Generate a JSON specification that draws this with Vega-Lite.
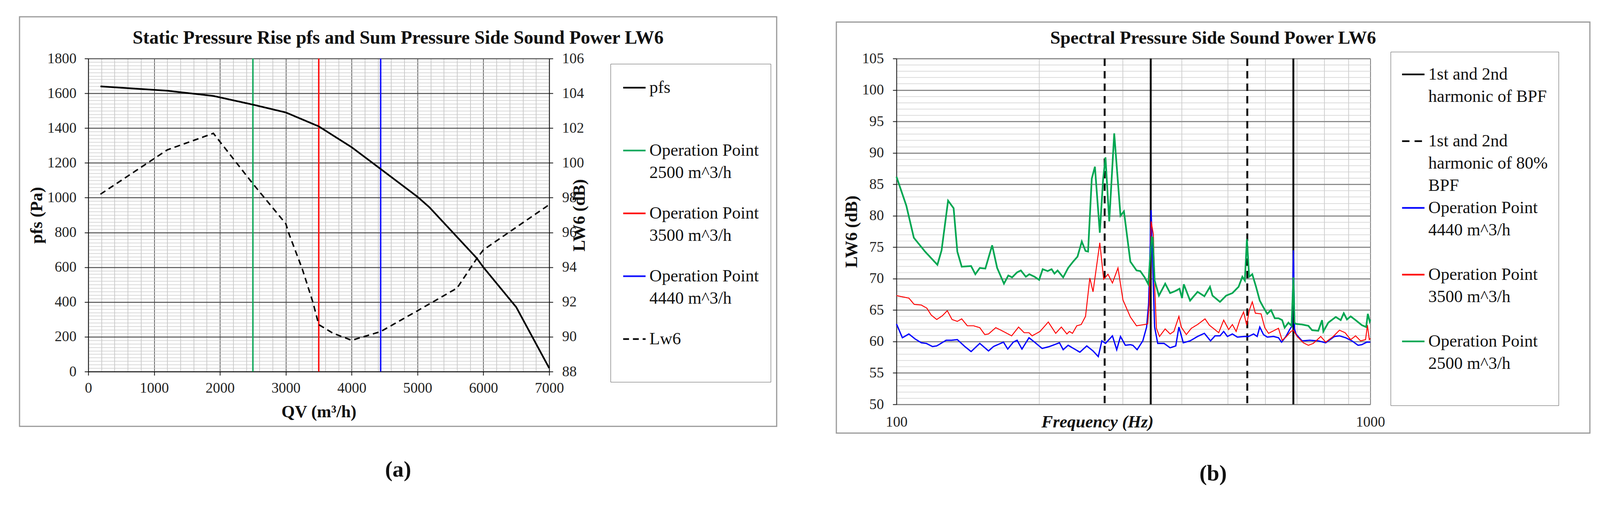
{
  "$schema": "https://vega.github.io/schema/vega-lite/v6.json",
  "background": "white",
  "padding": {"left": 48, "top": 41, "right": 38, "bottom": 45},
  "spacing": 149,
  "config": {
    "font": "Liberation Serif",
    "view": {"stroke": null},
    "axis": {
      "labelFont": "Liberation Serif",
      "labelFontSize": 37.3,
      "labelColor": "#222",
      "titleFont": "Liberation Serif",
      "titleFontSize": 44,
      "titleFontWeight": "bold",
      "titleColor": "#111",
      "labelOverlap": false,
      "labelSeparation": -5000,
      "labelFlush": false,
      "tickCount": 200,
      "domainColor": "#111",
      "domainWidth": 2,
      "tickColor": "#111",
      "tickWidth": 2,
      "tickSize": 9.6
    },
    "legend": {
      "title": null,
      "labelFont": "Liberation Serif",
      "labelFontSize": 44,
      "labelColor": "#111",
      "labelLimit": 900,
      "labelOffset": 7.6,
      "symbolType": "stroke",
      "symbolSize": 3295,
      "symbolStrokeWidth": 4.3,
      "strokeColor": "#555",
      "fillColor": "white"
    },
    "title": {"font": "Liberation Serif", "fontWeight": "bold", "color": "#111"},
    "style": {"guide-label": {"lineHeight": 57.4}}
  },
  "resolve": {
    "scale": {"color": "independent", "strokeDash": "independent"},
    "legend": {"color": "independent", "strokeDash": "independent"}
  },
  "hconcat": [
    {
      "title": {"text": "(a)", "orient": "bottom", "fontSize": 57.4, "offset": 82, "anchor": "middle", "frame": "bounds"},
      "vconcat": [
        {
          "title": {"text": "Static Pressure Rise pfs and Sum Pressure Side Sound Power LW6", "fontSize": 48, "offset": -80, "anchor": "middle", "frame": "bounds"},
          "width": 1180,
          "height": 802,
          "layer": [
            {
              "layer": [
                {
                  "data": {"values": [{"k": 1}]},
                  "mark": {"type": "rect", "fill": "transparent", "stroke": "#9a9a9a", "strokeWidth": 3},
                  "encoding": {
                    "x": {"datum": -1044, "type": "quantitative"},
                    "x2": {"datum": 10454},
                    "y": {"datum": 2040, "type": "quantitative"},
                    "y2": {"datum": -315}
                  }
                },
                {
                  "data": {"values": [
                    {"Q": 2500, "series": "Operation Point|2500 m^3/h"},
                    {"Q": 3500, "series": "Operation Point|3500 m^3/h"},
                    {"Q": 4440, "series": "Operation Point|4440 m^3/h"}
                  ]},
                  "mark": {"type": "rule", "strokeWidth": 3.8},
                  "encoding": {
                    "x": {"field": "Q", "type": "quantitative"},
                    "color": {"field": "series", "type": "nominal"},
                    "strokeDash": {"field": "series", "type": "nominal"}
                  }
                },
                {
                  "data": {"values": [
                    {"Q": 185, "P": 1640, "series": "pfs|"},
                    {"Q": 1200, "P": 1615, "series": "pfs|"},
                    {"Q": 1900, "P": 1585, "series": "pfs|"},
                    {"Q": 2500, "P": 1535, "series": "pfs|"},
                    {"Q": 3000, "P": 1490, "series": "pfs|"},
                    {"Q": 3500, "P": 1410, "series": "pfs|"},
                    {"Q": 4000, "P": 1290, "series": "pfs|"},
                    {"Q": 4440, "P": 1165, "series": "pfs|"},
                    {"Q": 5000, "P": 1005, "series": "pfs|"},
                    {"Q": 5180, "P": 945, "series": "pfs|"},
                    {"Q": 5900, "P": 652, "series": "pfs|"},
                    {"Q": 6000, "P": 600, "series": "pfs|"},
                    {"Q": 6500, "P": 370, "series": "pfs|"},
                    {"Q": 7000, "P": 20, "series": "pfs|"}
                  ]},
                  "mark": {"type": "line", "strokeWidth": 4.3},
                  "encoding": {
                    "x": {
                      "field": "Q", "type": "quantitative",
                      "scale": {"domain": [0, 7000], "nice": false, "zero": false},
                      "axis": {
                        "title": "QV (m³/h)",
                        "values": [0,200,400,600,800,1000,1200,1400,1600,1800,2000,2200,2400,2600,2800,3000,3200,3400,3600,3800,4000,4200,4400,4600,4800,5000,5200,5400,5600,5800,6000,6200,6400,6600,6800,7000],
                        "tickCount": 200,
                        "format": "d",
                        "labelExpr": "datum.value % 1000 === 0 ? datum.label : ''",
                        "labelOverlap": false,
                        "labelFlush": false,
                        "labelPadding": 15,
                        "titlePadding": 21,
                        "tickOpacity": {"condition": {"test": "datum.value % 1000 === 0", "value": 1}, "value": 0},
                        "grid": true,
                        "gridColor": {"condition": {"test": "datum.value % 1000 === 0", "value": "#333333"}, "value": "#bdbdbd"},
                        "gridWidth": 1.6
                      }
                    },
                    "y": {
                      "field": "P", "type": "quantitative",
                      "scale": {"domain": [0, 1800], "nice": false},
                      "axis": {
                        "title": "pfs (Pa)",
                        "values": [0,20,40,60,80,100,120,140,160,180,200,220,240,260,280,300,320,340,360,380,400,420,440,460,480,500,520,540,560,580,600,620,640,660,680,700,720,740,760,780,800,820,840,860,880,900,920,940,960,980,1000,1020,1040,1060,1080,1100,1120,1140,1160,1180,1200,1220,1240,1260,1280,1300,1320,1340,1360,1380,1400,1420,1440,1460,1480,1500,1520,1540,1560,1580,1600,1620,1640,1660,1680,1700,1720,1740,1760,1780,1800],
                        "tickCount": 200,
                        "format": "d",
                        "labelExpr": "datum.value % 200 === 0 ? datum.label : ''",
                        "labelOverlap": false,
                        "labelPadding": 21,
                        "titlePadding": 4,
                        "tickOpacity": {"condition": {"test": "datum.value % 200 === 0", "value": 1}, "value": 0},
                        "grid": true,
                        "gridColor": {"condition": {"test": "datum.value % 200 === 0", "value": "#505050"}, "value": "#cccccc"},
                        "gridWidth": {"condition": {"test": "datum.value % 200 === 0", "value": 2.5}, "value": 1.4}
                      }
                    },
                    "color": {
                      "field": "series", "type": "nominal",
                      "scale": {
                        "domain": ["pfs|", "Operation Point|2500 m^3/h", "Operation Point|3500 m^3/h", "Operation Point|4440 m^3/h", "Lw6|"],
                        "range": ["#000000", "#12a85c", "#ff1010", "#1010ff", "#000000"]
                      },
                      "legend": {"orient": "none", "legendX": 1337, "legendY": 13.6, "padding": 30, "rowPadding": 50, "labelExpr": "split(datum.label, '|')"}
                    },
                    "strokeDash": {
                      "field": "series", "type": "nominal",
                      "scale": {
                        "domain": ["pfs|", "Operation Point|2500 m^3/h", "Operation Point|3500 m^3/h", "Operation Point|4440 m^3/h", "Lw6|"],
                        "range": [[1, 0], [1, 0], [1, 0], [1, 0], [15, 10]]
                      },
                      "legend": {"orient": "none", "legendX": 1337, "legendY": 13.6, "padding": 30, "rowPadding": 50, "labelExpr": "split(datum.label, '|')"}
                    }
                  }
                }
              ]
            },
            {
              "data": {"values": [
                {"Q": 185, "L": 98.2, "series": "Lw6|"},
                {"Q": 1200, "L": 100.75, "series": "Lw6|"},
                {"Q": 1900, "L": 101.7, "series": "Lw6|"},
                {"Q": 2500, "L": 98.8, "series": "Lw6|"},
                {"Q": 3000, "L": 96.5, "series": "Lw6|"},
                {"Q": 3050, "L": 95.9, "series": "Lw6|"},
                {"Q": 3250, "L": 93.9, "series": "Lw6|"},
                {"Q": 3410, "L": 92.0, "series": "Lw6|"},
                {"Q": 3500, "L": 90.7, "series": "Lw6|"},
                {"Q": 3720, "L": 90.2, "series": "Lw6|"},
                {"Q": 4000, "L": 89.8, "series": "Lw6|"},
                {"Q": 4440, "L": 90.3, "series": "Lw6|"},
                {"Q": 5000, "L": 91.5, "series": "Lw6|"},
                {"Q": 5600, "L": 92.8, "series": "Lw6|"},
                {"Q": 5900, "L": 94.5, "series": "Lw6|"},
                {"Q": 6000, "L": 95.0, "series": "Lw6|"},
                {"Q": 6500, "L": 96.3, "series": "Lw6|"},
                {"Q": 7000, "L": 97.6, "series": "Lw6|"}
              ]},
              "mark": {"type": "line", "strokeWidth": 3.8},
              "encoding": {
                "x": {"field": "Q", "type": "quantitative"},
                "y": {
                  "field": "L", "type": "quantitative",
                  "scale": {"domain": [88, 106], "nice": false, "zero": false},
                  "axis": {
                    "orient": "right",
                    "title": "LW6 (dB)",
                    "titleAngle": 270,
                    "values": [88,90,92,94,96,98,100,102,104,106],
                    "tickCount": 200,
                    "format": "d",
                    "labelOverlap": false,
                    "labelPadding": 23,
                    "titlePadding": 11,
                    "grid": false
                  }
                },
                "color": {"field": "series", "type": "nominal"},
                "strokeDash": {"field": "series", "type": "nominal"}
              }
            }
          ],
          "resolve": {"scale": {"y": "independent"}}
        }
      ]
    },
    {
      "title": {"text": "(b)", "orient": "bottom", "fontSize": 57.4, "offset": 75, "anchor": "middle", "frame": "bounds"},
      "vconcat": [
        {
          "title": {"text": "Spectral Pressure Side Sound Power LW6", "fontSize": 46.8, "offset": -67, "anchor": "middle", "frame": "bounds"},
          "width": 1213,
          "height": 886,
          "layer": [
            {
              "data": {"values": [{"k": 1}]},
              "mark": {"type": "rect", "fill": "transparent", "stroke": "#9a9a9a", "strokeWidth": 3},
              "encoding": {
                "x": {"datum": 74.66, "type": "quantitative"},
                "x2": {"datum": 2906.6},
                "y": {"datum": 110.81, "type": "quantitative"},
                "y2": {"datum": 45.43}
              }
            },
            {
              "data": {"values": [
                {"f": 275, "s": "1st and 2nd|harmonic of 80%|BPF"},
                {"f": 550, "s": "1st and 2nd|harmonic of 80%|BPF"},
                {"f": 344, "s": "1st and 2nd|harmonic of BPF|"},
                {"f": 688, "s": "1st and 2nd|harmonic of BPF|"}
              ]},
              "mark": {"type": "rule", "strokeWidth": 4.8},
              "encoding": {
                "x": {"field": "f", "type": "quantitative"},
                "color": {"field": "s", "type": "nominal"},
                "strokeDash": {"field": "s", "type": "nominal"}
              }
            },
            {
              "data": {"values": [
                {"f": 100, "L": 62.8}, {"f": 102.9, "L": 60.6}, {"f": 106.2, "L": 61.2}, {"f": 109.5, "L": 60.4},
                {"f": 112.8, "L": 59.8}, {"f": 115.6, "L": 59.7}, {"f": 119.1, "L": 59.2}, {"f": 121.6, "L": 59.3},
                {"f": 127.3, "L": 60.2}, {"f": 130.5, "L": 60.2}, {"f": 134.4, "L": 60.3}, {"f": 139.4, "L": 59.2},
                {"f": 143.7, "L": 58.4}, {"f": 149.9, "L": 59.7}, {"f": 156.4, "L": 58.5}, {"f": 160.2, "L": 59.2},
                {"f": 168.2, "L": 59.9}, {"f": 171.7, "L": 58.8}, {"f": 176.4, "L": 59.9}, {"f": 179.7, "L": 60.2},
                {"f": 184, "L": 58.8}, {"f": 190.4, "L": 60.6}, {"f": 195.6, "L": 59.9}, {"f": 202.9, "L": 58.9},
                {"f": 210.3, "L": 59.2}, {"f": 220.8, "L": 59.8}, {"f": 224.8, "L": 58.7}, {"f": 230.3, "L": 59.4},
                {"f": 243.8, "L": 58.3}, {"f": 252.1, "L": 59.3}, {"f": 259.9, "L": 58.5}, {"f": 266.6, "L": 57.6},
                {"f": 271.3, "L": 60.1}, {"f": 276.1, "L": 59.7}, {"f": 285.6, "L": 60.9}, {"f": 291.6, "L": 58.7},
                {"f": 297, "L": 60.8}, {"f": 304.1, "L": 59.4}, {"f": 311.6, "L": 59.5}, {"f": 315.4, "L": 59.4},
                {"f": 322, "L": 58.7}, {"f": 331, "L": 60.1}, {"f": 337.2, "L": 62.3}, {"f": 340.5, "L": 66},
                {"f": 344.7, "L": 80.9}, {"f": 348, "L": 70}, {"f": 350.6, "L": 62.3}, {"f": 355.9, "L": 59.7},
                {"f": 367, "L": 59.7}, {"f": 378, "L": 59.0}, {"f": 388.5, "L": 59.3}, {"f": 394.5, "L": 62.3},
                {"f": 403, "L": 59.8}, {"f": 416.5, "L": 60.1}, {"f": 431.9, "L": 60.8}, {"f": 446.5, "L": 61.3},
                {"f": 460, "L": 60.1}, {"f": 470.1, "L": 60.9}, {"f": 481.6, "L": 60.9}, {"f": 490.4, "L": 61.6},
                {"f": 499.4, "L": 60.8}, {"f": 511.6, "L": 61.2}, {"f": 524, "L": 60.7}, {"f": 543.5, "L": 60.8},
                {"f": 553.4, "L": 60.8}, {"f": 567, "L": 61.2}, {"f": 577, "L": 60.8}, {"f": 584.4, "L": 62.3},
                {"f": 595, "L": 61.1}, {"f": 606, "L": 60.7}, {"f": 624.8, "L": 60.8}, {"f": 640, "L": 60.6},
                {"f": 649.7, "L": 59.9}, {"f": 663.6, "L": 60.8}, {"f": 675.8, "L": 61.9}, {"f": 684, "L": 62.5},
                {"f": 688.2, "L": 74.5}, {"f": 692, "L": 62}, {"f": 696.6, "L": 61.2}, {"f": 717.8, "L": 60.1},
                {"f": 744.4, "L": 60.2}, {"f": 776.6, "L": 60.1}, {"f": 805, "L": 59.8}, {"f": 840, "L": 60.8},
                {"f": 860.9, "L": 60.9}, {"f": 887, "L": 60.6}, {"f": 914.5, "L": 60.1}, {"f": 942.3, "L": 59.4},
                {"f": 959.6, "L": 59.5}, {"f": 983, "L": 59.9}, {"f": 1000, "L": 59.9}
              ]},
              "mark": {"type": "line", "strokeWidth": 3.3},
              "encoding": {
                "x": {
                  "field": "f", "type": "quantitative",
                  "scale": {"type": "log", "domain": [100, 1000], "nice": false},
                  "axis": {
                    "title": "Frequency  (Hz)",
                    "titleFontStyle": "italic",
                    "titleX": 514,
                    "titlePadding": -40,
                    "values": [100,200,300,400,500,600,700,800,900,1000],
                    "tickCount": 200,
                    "format": "d",
                    "labelExpr": "datum.value === 100 || datum.value === 1000 ? datum.label : ''",
                    "labelOverlap": false,
                    "labelFlush": false,
                    "labelPadding": 27,
                    "ticks": false,
                    "domainColor": "#8a8a8a",
                    "domainWidth": 3,
                    "grid": true,
                    "gridColor": {"condition": {"test": "datum.value === 1000", "value": "#555555"}, "value": "#c2c2c2"},
                    "gridWidth": 1.6
                  }
                },
                "y": {
                  "field": "L", "type": "quantitative",
                  "scale": {"domain": [50, 105], "nice": false, "zero": false},
                  "axis": {
                    "title": "LW6 (dB)",
                    "values": [50,51,52,53,54,55,56,57,58,59,60,61,62,63,64,65,66,67,68,69,70,71,72,73,74,75,76,77,78,79,80,81,82,83,84,85,86,87,88,89,90,91,92,93,94,95,96,97,98,99,100,101,102,103,104,105],
                    "tickCount": 200,
                    "format": "d",
                    "labelExpr": "datum.value % 5 === 0 ? datum.label : ''",
                    "labelOverlap": false,
                    "labelPadding": 23,
                    "titlePadding": 4,
                    "tickOpacity": {"condition": {"test": "datum.value % 5 === 0", "value": 1}, "value": 0},
                    "grid": true,
                    "gridColor": {"condition": {"test": "datum.value % 5 === 0", "value": "#8c8c8c"}, "value": "#d0d0d0"},
                    "gridWidth": {"condition": {"test": "datum.value % 5 === 0", "value": 3}, "value": 1.5}
                  }
                },
                "color": {
                  "datum": "Operation Point|4440 m^3/h|", "type": "nominal",
                  "scale": {
                    "domain": ["1st and 2nd|harmonic of BPF|", "1st and 2nd|harmonic of 80%|BPF", "Operation Point|4440 m^3/h|", "Operation Point|3500 m^3/h|", "Operation Point|2500 m^3/h|"],
                    "range": ["#000000", "#000000", "#0000ff", "#ff0000", "#00a651"]
                  },
                  "legend": {"orient": "none", "legendX": 1265, "legendY": -17.3, "padding": 27, "rowPadding": 3, "labelExpr": "split(datum.label, '|')"}
                },
                "strokeDash": {
                  "datum": "Operation Point|4440 m^3/h|", "type": "nominal",
                  "scale": {
                    "domain": ["1st and 2nd|harmonic of BPF|", "1st and 2nd|harmonic of 80%|BPF", "Operation Point|4440 m^3/h|", "Operation Point|3500 m^3/h|", "Operation Point|2500 m^3/h|"],
                    "range": [[1, 0], [19, 13], [1, 0], [1, 0], [1, 0]]
                  },
                  "legend": {"orient": "none", "legendX": 1265, "legendY": -17.3, "padding": 27, "rowPadding": 3, "labelExpr": "split(datum.label, '|')"}
                }
              }
            },
            {
              "data": {"values": [
                {"f": 100, "L": 67.3}, {"f": 106.2, "L": 66.9}, {"f": 109, "L": 65.9}, {"f": 112.8, "L": 65.8},
                {"f": 115.9, "L": 65.3}, {"f": 118.4, "L": 64.2}, {"f": 121.6, "L": 63.5}, {"f": 125, "L": 64.1},
                {"f": 128, "L": 64.9}, {"f": 131, "L": 63.5}, {"f": 134.4, "L": 63.2}, {"f": 137.3, "L": 63.6},
                {"f": 141.1, "L": 62.5}, {"f": 145.4, "L": 62.5}, {"f": 149.9, "L": 62.2}, {"f": 153.6, "L": 61.1},
                {"f": 156.4, "L": 61.2}, {"f": 162, "L": 62.2}, {"f": 167.1, "L": 61.7}, {"f": 175, "L": 60.9},
                {"f": 181, "L": 62.3}, {"f": 186, "L": 61.4}, {"f": 190.4, "L": 61.4}, {"f": 193.3, "L": 60.9},
                {"f": 200.9, "L": 61.6}, {"f": 209.1, "L": 63.1}, {"f": 216.8, "L": 61.3}, {"f": 222.8, "L": 62.3},
                {"f": 228.9, "L": 61.2}, {"f": 231.7, "L": 61.6}, {"f": 235.2, "L": 61.3}, {"f": 240.2, "L": 62.5},
                {"f": 245.4, "L": 62.7}, {"f": 250.6, "L": 64.0}, {"f": 255.9, "L": 70.1}, {"f": 259.9, "L": 67.9},
                {"f": 268.6, "L": 75.7}, {"f": 273.7, "L": 69.9}, {"f": 279.5, "L": 70.7}, {"f": 285.6, "L": 69.3},
                {"f": 293.4, "L": 71.7}, {"f": 300.6, "L": 66.6}, {"f": 311.6, "L": 63.9}, {"f": 321, "L": 62.5},
                {"f": 334, "L": 62.7}, {"f": 339, "L": 62.8}, {"f": 341.5, "L": 66}, {"f": 344.7, "L": 79.1},
                {"f": 348.5, "L": 77}, {"f": 351, "L": 68}, {"f": 353.7, "L": 62.1}, {"f": 359, "L": 60.8},
                {"f": 369, "L": 62.0}, {"f": 378, "L": 61.2}, {"f": 385, "L": 61.6}, {"f": 394.5, "L": 64.0},
                {"f": 399, "L": 62.3}, {"f": 409, "L": 61.1}, {"f": 419, "L": 62.1}, {"f": 431.9, "L": 62.7},
                {"f": 447.9, "L": 63.6}, {"f": 457.4, "L": 62.6}, {"f": 478.7, "L": 61.4}, {"f": 490.4, "L": 63.4},
                {"f": 502.4, "L": 61.9}, {"f": 511.6, "L": 62.7}, {"f": 521, "L": 61.6}, {"f": 530.4, "L": 63.4},
                {"f": 540.2, "L": 64.7}, {"f": 548.4, "L": 62.6}, {"f": 555, "L": 64.9}, {"f": 563.5, "L": 66.3},
                {"f": 572, "L": 64.5}, {"f": 588, "L": 64.4}, {"f": 598.8, "L": 62.2}, {"f": 609.8, "L": 61.3},
                {"f": 624.8, "L": 61.7}, {"f": 640, "L": 62.1}, {"f": 651.6, "L": 60.2}, {"f": 663.6, "L": 60.7},
                {"f": 680, "L": 61.6}, {"f": 688, "L": 61.8}, {"f": 700.8, "L": 60.8}, {"f": 722, "L": 59.8},
                {"f": 740, "L": 59.4}, {"f": 758, "L": 59.7}, {"f": 786, "L": 60.8}, {"f": 805, "L": 59.9},
                {"f": 835, "L": 60.8}, {"f": 860.9, "L": 61.8}, {"f": 884.6, "L": 61.4}, {"f": 909, "L": 60.3},
                {"f": 931, "L": 60.9}, {"f": 953.8, "L": 60.1}, {"f": 977.2, "L": 60.3}, {"f": 986, "L": 62.6},
                {"f": 995, "L": 60.3}, {"f": 1000, "L": 60.5}
              ]},
              "mark": {"type": "line", "strokeWidth": 2.4},
              "encoding": {
                "x": {"field": "f", "type": "quantitative"},
                "y": {"field": "L", "type": "quantitative"},
                "color": {"datum": "Operation Point|3500 m^3/h|", "type": "nominal"},
                "strokeDash": {"datum": "Operation Point|3500 m^3/h|", "type": "nominal"}
              }
            },
            {
              "data": {"values": [
                {"f": 100, "L": 86.2}, {"f": 104.9, "L": 81.6}, {"f": 108.8, "L": 76.5}, {"f": 114.9, "L": 74.3},
                {"f": 122, "L": 72.2}, {"f": 124.5, "L": 74.5}, {"f": 128.5, "L": 82.4}, {"f": 132, "L": 81.2},
                {"f": 134.4, "L": 74.3}, {"f": 137.3, "L": 71.9}, {"f": 143.7, "L": 72.0}, {"f": 146.7, "L": 70.7},
                {"f": 149.9, "L": 71.7}, {"f": 154, "L": 71.6}, {"f": 159.2, "L": 75.3}, {"f": 163.1, "L": 71.7},
                {"f": 168.6, "L": 69.2}, {"f": 172.2, "L": 70.5}, {"f": 175.4, "L": 70.2}, {"f": 179.7, "L": 71.0},
                {"f": 183, "L": 71.3}, {"f": 187.5, "L": 70.3}, {"f": 190.7, "L": 70.7}, {"f": 195.6, "L": 70.3},
                {"f": 200, "L": 69.8}, {"f": 203.5, "L": 71.5}, {"f": 208.5, "L": 71.2}, {"f": 212.5, "L": 71.5},
                {"f": 215.5, "L": 70.8}, {"f": 218.8, "L": 71.3}, {"f": 224.8, "L": 70.2}, {"f": 230.3, "L": 71.7},
                {"f": 235.9, "L": 72.7}, {"f": 241, "L": 73.5}, {"f": 246.1, "L": 75.9}, {"f": 250.6, "L": 74.4},
                {"f": 253.7, "L": 74.3}, {"f": 258.3, "L": 85.9}, {"f": 262.3, "L": 87.8}, {"f": 268.6, "L": 77.3},
                {"f": 272.9, "L": 85.7}, {"f": 276.1, "L": 89.3}, {"f": 281.2, "L": 79.1}, {"f": 288.1, "L": 93.1},
                {"f": 297, "L": 80.0}, {"f": 302, "L": 80.7}, {"f": 311.6, "L": 72.7}, {"f": 321.1, "L": 71.3},
                {"f": 327, "L": 71.2}, {"f": 334, "L": 70.2}, {"f": 340, "L": 69.1}, {"f": 345.5, "L": 76.6},
                {"f": 347.4, "L": 76.5}, {"f": 350.6, "L": 69.7}, {"f": 358, "L": 67.3}, {"f": 369.1, "L": 69.2},
                {"f": 378, "L": 67.7}, {"f": 387, "L": 68.0}, {"f": 395.7, "L": 68.4}, {"f": 400.5, "L": 66.9},
                {"f": 404, "L": 69.1}, {"f": 416.5, "L": 66.5}, {"f": 431.9, "L": 67.9}, {"f": 446.5, "L": 67.2},
                {"f": 458.8, "L": 68.7}, {"f": 464.4, "L": 67.3}, {"f": 481.6, "L": 66.3}, {"f": 496.4, "L": 67.3},
                {"f": 511.6, "L": 67.7}, {"f": 527.2, "L": 68.7}, {"f": 537, "L": 70.3}, {"f": 543.5, "L": 69.7},
                {"f": 549, "L": 76.3}, {"f": 555, "L": 70.3}, {"f": 563.5, "L": 70.7}, {"f": 573.9, "L": 68.7},
                {"f": 584.4, "L": 66.5}, {"f": 595.2, "L": 65.4}, {"f": 606.1, "L": 64.4}, {"f": 617.2, "L": 65.0},
                {"f": 628.5, "L": 63.7}, {"f": 640, "L": 63.7}, {"f": 651.6, "L": 63.4}, {"f": 659.5, "L": 62.2},
                {"f": 671.7, "L": 63.0}, {"f": 682, "L": 62.5}, {"f": 688.2, "L": 70.2}, {"f": 692, "L": 63},
                {"f": 696.6, "L": 62.8}, {"f": 717.8, "L": 62.7}, {"f": 740, "L": 62.5}, {"f": 753.5, "L": 61.8},
                {"f": 776.6, "L": 61.7}, {"f": 791, "L": 63.4}, {"f": 796, "L": 61.6}, {"f": 815.3, "L": 63.0},
                {"f": 845.4, "L": 63.9}, {"f": 866, "L": 63.4}, {"f": 879, "L": 64.5}, {"f": 892.7, "L": 63.5},
                {"f": 909, "L": 64.0}, {"f": 931, "L": 63.4}, {"f": 959.6, "L": 62.6}, {"f": 980, "L": 62.3},
                {"f": 988, "L": 64.4}, {"f": 997, "L": 63.2}, {"f": 1000, "L": 63.5}
              ]},
              "mark": {"type": "line", "strokeWidth": 4.3},
              "encoding": {
                "x": {"field": "f", "type": "quantitative"},
                "y": {"field": "L", "type": "quantitative"},
                "color": {"datum": "Operation Point|2500 m^3/h|", "type": "nominal"},
                "strokeDash": {"datum": "Operation Point|2500 m^3/h|", "type": "nominal"}
              }
            }
          ]
        }
      ]
    }
  ]
}
